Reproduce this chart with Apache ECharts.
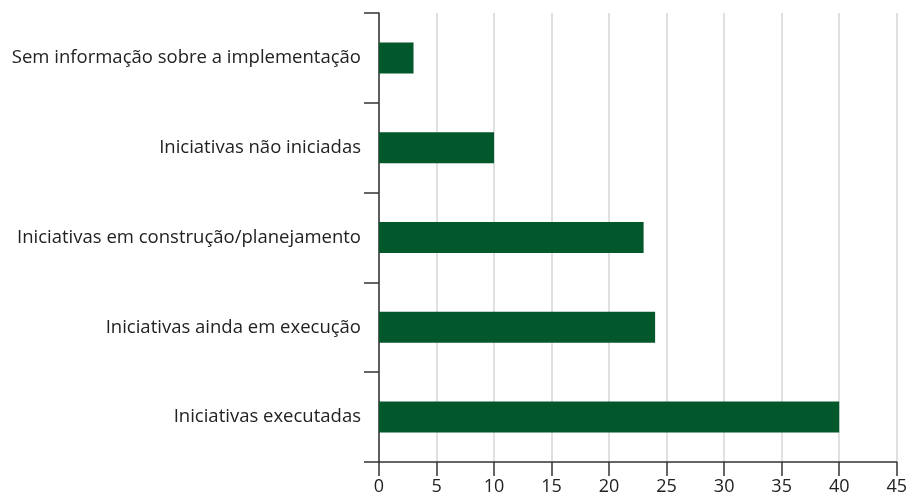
<!DOCTYPE html>
<html>
<head>
<meta charset="utf-8">
<script src="https://cdn.jsdelivr.net/npm/echarts@6/dist/echarts.min.js"></script>
<style>
  html, body { margin: 0; padding: 0; background: #fff; }
  #chart { width: 910px; height: 496px; }
</style>
</head>
<body>
<div id="chart"></div>
<script>
// categorias de cima para baixo
const categories = [
  'Sem informação sobre a implementação',
  'Iniciativas não iniciadas',
  'Iniciativas em construção/planejamento',
  'Iniciativas ainda em execução',
  'Iniciativas executadas'
];
const values = [3, 10, 23, 24, 40];

const option = {
  animation: false,
  backgroundColor: '#fff',
  textStyle: { fontFamily: '"Open Sans", "Noto Sans", sans-serif' },
  grid: {
    left: 379,
    right: 8,
    top: 13,
    bottom: 33
  },
  xAxis: {
    type: 'value',
    min: 0,
    max: 45,
    interval: 5,
    axisLine: { show: true, lineStyle: { color: '#333', width: 1.5 } },
    axisTick: { show: true, length: 14, lineStyle: { color: '#333', width: 1.5 } },
    axisLabel: { color: '#222', fontSize: 18, margin: 16 },
    splitLine: { show: true, lineStyle: { color: '#d6d6d6', width: 1.5 } }
  },
  yAxis: {
    type: 'category',
    inverse: true,
    data: categories,
    axisLine: { show: true, lineStyle: { color: '#333', width: 1.5 } },
    axisTick: { show: true, length: 15, lineStyle: { color: '#333', width: 1.5 } },
    axisLabel: { color: '#222', fontSize: 18.5, margin: 18 }
  },
  series: [
    {
      type: 'bar',
      data: values,
      barWidth: 31,
      itemStyle: { color: '#02572b' },
      z: 3
    }
  ]
};

const myChart = echarts.init(document.getElementById('chart'));
myChart.setOption(option);
</script>
</body>
</html>
